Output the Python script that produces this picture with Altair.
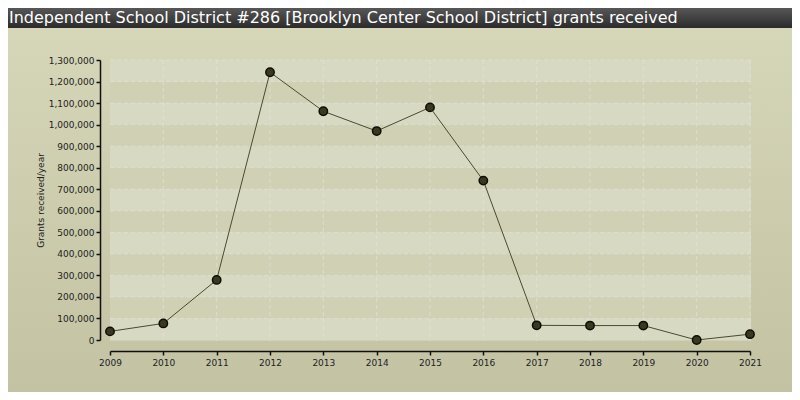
import altair as alt
import pandas as pd

years = [2009, 2010, 2011, 2012, 2013, 2014, 2015, 2016, 2017, 2018, 2019, 2020, 2021]
grants = [40000, 77000, 279000, 1243000, 1062000, 970000, 1080000, 740000, 68000, 67000, 67000, 0, 27000]
y_ticks = list(range(0, 1300001, 100000))
band_starts = list(range(0, 1300000, 200000))

title_text = "Independent School District #286 [Brooklyn Center School District] grants received"
y_title = "Grants received/year"

W, H = 641, 281
PAD = {"left": 102, "top": 52, "right": 41, "bottom": 51}

df = pd.DataFrame({"year": years, "grants": grants})
bands = pd.DataFrame({"y0": band_starts, "y1": [b + 100000 for b in band_starts]})
ygrid = pd.DataFrame({"grants": y_ticks[1:]})
xgrid = pd.DataFrame({"year": years[1:]})

xs = alt.Scale(domain=[2009, 2021], range=[0, 640], nice=False, zero=False)
ys = alt.Scale(domain=[0, 1300000], range=[280, 0], nice=False)

x_axis = alt.Axis(values=years, format="d", title=None, offset=10, grid=False,
                  domainColor="#111111", domainWidth=1.5, tickColor="#111111",
                  tickWidth=1.5, tickSize=4, labelFontSize=9, labelColor="#222222",
                  labelFont="DejaVu Sans", labelPadding=3, labelFlush=False,
                  labelOverlap=False, zindex=1)
y_axis = alt.Axis(values=y_ticks, format=",d", title=y_title, offset=10, grid=False,
                  domainColor="#111111", domainWidth=1.5, tickColor="#111111",
                  tickWidth=1.5, tickSize=4, labelFontSize=9, labelColor="#222222",
                  labelFont="DejaVu Sans", labelPadding=2, labelFlush=False,
                  labelOverlap=False,
                  titleFont="DejaVu Sans", titleFontSize=9, titleFontWeight="normal",
                  titleColor="#222222", titlePadding=3, zindex=1)

one = alt.Data(values=[{}])

outer_bg = alt.Chart(one).mark_rect(
    color=alt.LinearGradient(
        gradient="linear", x1=0, y1=0, x2=0, y2=1,
        stops=[alt.GradientStop(color="#d7d7b9", offset=0),
               alt.GradientStop(color="#c3c3a4", offset=1)])
).encode(x=alt.value(-PAD["left"]), x2=alt.value(W + PAD["right"]),
         y=alt.value(-PAD["top"]), y2=alt.value(H + PAD["bottom"]))

title_bar = alt.Chart(one).mark_rect(
    color=alt.LinearGradient(
        gradient="linear", x1=0, y1=0, x2=0, y2=1,
        stops=[alt.GradientStop(color="#575757", offset=0),
               alt.GradientStop(color="#2b2b2b", offset=1)])
).encode(x=alt.value(-PAD["left"]), x2=alt.value(W + PAD["right"]),
         y=alt.value(-PAD["top"]), y2=alt.value(-PAD["top"] + 20))

title = alt.Chart(one).mark_text(
    text=title_text, align="left", baseline="middle", color="#ffffff",
    font="DejaVu Sans", fontSize=16
).encode(x=alt.value(-PAD["left"] + 1), y=alt.value(-PAD["top"] + 10))

plot_bg = alt.Chart(one).mark_rect(color="#cfd0b4").encode(
    x=alt.value(0), x2=alt.value(W), y=alt.value(0), y2=alt.value(H))

band_layer = alt.Chart(bands).mark_rect(color="#d8d9c2").encode(
    x=alt.value(0), x2=alt.value(W),
    y=alt.Y("y0:Q", scale=ys, axis=y_axis), y2="y1:Q")

hgrid = alt.Chart(ygrid).mark_rule(color="#e2e2da", strokeDash=[4, 3], strokeWidth=1, opacity=0.7).encode(
    x=alt.value(0), x2=alt.value(W), y=alt.Y("grants:Q", scale=ys, axis=y_axis))

vgrid = alt.Chart(xgrid).mark_rule(color="#e2e2da", strokeDash=[4, 3], strokeWidth=1, opacity=0.7).encode(
    x=alt.X("year:Q", scale=xs, axis=x_axis), y=alt.value(0), y2=alt.value(H))

base = alt.Chart(df).encode(
    x=alt.X("year:Q", scale=xs, axis=x_axis),
    y=alt.Y("grants:Q", scale=ys, axis=y_axis),
)

line = base.mark_line(color="#4a4a30", strokeWidth=1)
points = base.mark_circle(size=70, color="#3b3820", opacity=1, stroke="#0d0d08", strokeWidth=1.5)

chart = alt.layer(outer_bg, title_bar, title, plot_bg, band_layer, hgrid, vgrid, line, points).properties(
    width=W, height=H, padding=PAD, autosize=alt.AutoSizeParams(type="none")
).configure_view(stroke=None).configure(background="#ffffff")

chart.save("out.html", embed_options={"renderer": "svg", "actions": False})
